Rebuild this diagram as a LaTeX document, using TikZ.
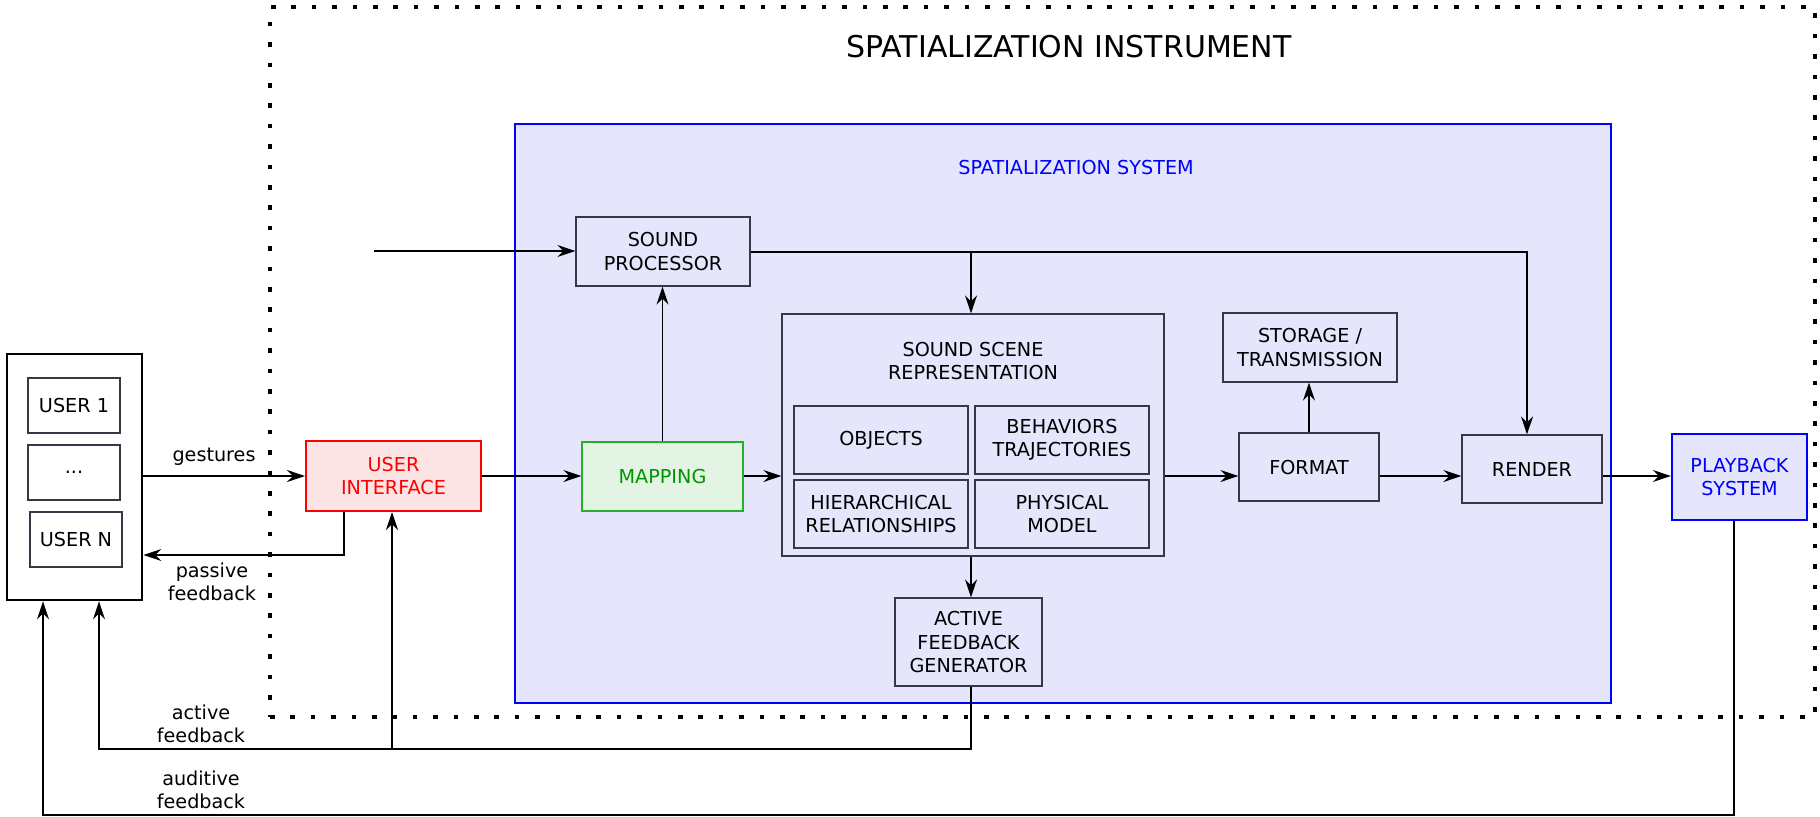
\documentclass[tikz,border=0pt]{standalone}
\usepackage{fontspec}
\setmainfont{DejaVu Sans}
\usetikzlibrary{arrows.meta,fit}
\definecolor{sysfill}{RGB}{229,229,251}
\definecolor{uifill}{RGB}{253,228,228}
\definecolor{mapfill}{RGB}{228,244,228}
\definecolor{mapdraw}{RGB}{40,175,40}
\definecolor{maptext}{RGB}{0,150,0}
\definecolor{boxdraw}{RGB}{55,55,70}
\newcommand\bodyfont{\fontsize{9.6}{11.7}\selectfont}
\newcommand\titlefont{\fontsize{15}{18}\selectfont}
\begin{document}
\begin{tikzpicture}[x=0.5pt,y=-0.5pt,
  box/.style={draw=boxdraw, line width=0.6pt, inner sep=0pt, align=center, font=\bodyfont},
  lbl/.style={inner sep=0pt, align=center, font=\bodyfont},
  conn/.style={line width=0.6pt, draw=black},
  arr/.style={conn, -{Stealth[length=9pt,width=6pt,inset=3pt]}},
  instbox/.style={draw=black, line width=2.3pt, dash pattern=on 2.3pt off 7.9pt, inner sep=0pt},
  sysbox/.style={draw=blue, fill=sysfill, line width=1.1pt, inner sep=0pt},
]
\fill[white] (0,0) rectangle (1820,816);
\useasboundingbox (0,0) rectangle (1820,816);

% containers
\node[instbox, fit={(270,7) (1815,717)}] (inst) {};
\node[font=\titlefont, inner sep=0pt] (title) at (1069,47) {SPATIALIZATION INSTRUMENT};
\node[sysbox, fit={(515,124) (1611,703)}] (sys) {};
\node[lbl, text=blue] (systitle) at (1076,167) {SPATIALIZATION SYSTEM};

% users
\node[draw=black, line width=1.4pt, inner sep=0pt, fit={(7,354) (142,600)}] (users) {};
\node[box, minimum width=46pt, minimum height=27.5pt] (u1) at (74,405.5) {USER 1};
\node[box, minimum width=46pt, minimum height=27.5pt] (udots) at (74,472.5) {...};
\node[box, minimum width=46pt, minimum height=27.5pt] (un) at (76,539.5) {USER N};

% user interface, mapping, sound processor
\node[box, draw=red, fill=uifill, text=red, line width=1pt, minimum width=87.5pt, minimum height=35pt] (ui) at (393.5,476) {USER\\INTERFACE};
\node[box, draw=mapdraw, fill=mapfill, text=maptext, minimum width=80.5pt, minimum height=34.5pt] (map) at (662.5,476.5) {MAPPING};
\node[box, minimum width=87pt, minimum height=34.5pt] (sp) at (663,251.5) {SOUND\\PROCESSOR};

% sound scene
\node[box, fit={(782,314) (1164,556)}] (scene) {};
\node[lbl] (scenetitle) at (973,361) {SOUND SCENE\\REPRESENTATION};
\node[box, minimum width=87pt, minimum height=34pt] (obj) at (881,440) {OBJECTS};
\node[box, minimum width=87pt, minimum height=34pt] (beh) at (1062,440) {BEHAVIORS\\TRAJECTORIES};
\node[box, minimum width=87pt, minimum height=34pt] (hier) at (881,514) {HIERARCHICAL\\RELATIONSHIPS};
\node[box, minimum width=87pt, minimum height=34pt] (phys) at (1062,514) {PHYSICAL\\MODEL};

\node[box, minimum width=73.5pt, minimum height=44pt] (afg) at (968.5,642) {ACTIVE\\FEEDBACK\\GENERATOR};
\node[box, minimum width=87pt, minimum height=34.5pt] (stor) at (1310,347.5) {STORAGE /\\TRANSMISSION};
\node[box, minimum width=70pt, minimum height=34pt] (fmt) at (1309,467) {FORMAT};
\node[box, minimum width=70pt, minimum height=34pt] (ren) at (1532,469) {RENDER};
\node[box, draw=blue, fill=sysfill, text=blue, line width=1.2pt, minimum width=67.5pt, minimum height=43pt] (pb) at (1739.5,477) {PLAYBACK\\SYSTEM};

% labels
\node[lbl] (lgest) at (214,457) {gestures};
\node[lbl] (lpass) at (212,582) {passive\\feedback};
\node[lbl] (lact) at (201,724) {active\\feedback};
\node[lbl] (laud) at (201,790) {auditive\\feedback};

% coordinates
\coordinate (in) at (374,251);
\coordinate (j1) at (971,252);
\coordinate (j2) at (1527,252);
\coordinate (mid) at (0,476);
\coordinate (a1) at (971,749);
\coordinate (a2) at (99,749);
\coordinate (a3) at (392,749);
\coordinate (p1) at (344,555);
\coordinate (b1) at (1734,815);
\coordinate (b2) at (43,815);

% connectors
\draw[arr] (in) -- (in -| sp.west);
\draw[arr] (sp.east |- j2) -- (j2) -- (j2 |- ren.north);
\draw[arr] (j1) -- (j1 |- scene.north);
\draw[arr] (map.north) -- (map.north |- sp.south);
\draw[arr] (users.east |- mid) -- (ui.west |- mid);
\draw[arr] (ui.east |- mid) -- (map.west |- mid);
\draw[arr] (map.east |- mid) -- (scene.west |- mid);
\draw[arr] (scene.east |- mid) -- (fmt.west |- mid);
\draw[arr] (fmt.east |- mid) -- (ren.west |- mid);
\draw[arr] (ren.east |- mid) -- (pb.west |- mid);
\draw[arr] (fmt.north) -- (fmt.north |- stor.south);
\draw[arr] (j1 |- scene.south) -- (j1 |- afg.north);
\draw[arr] (p1 |- ui.south) -- (p1) -- (p1 -| users.east);
\draw[arr] (a1 |- afg.south) -- (a1) -- (a2) -- (a2 |- users.south);
\draw[arr] (a3) -- (a3 |- ui.south);
\draw[arr] (b1 |- pb.south) -- (b1) -- (b2) -- (b2 |- users.south);
\end{tikzpicture}
\end{document}
